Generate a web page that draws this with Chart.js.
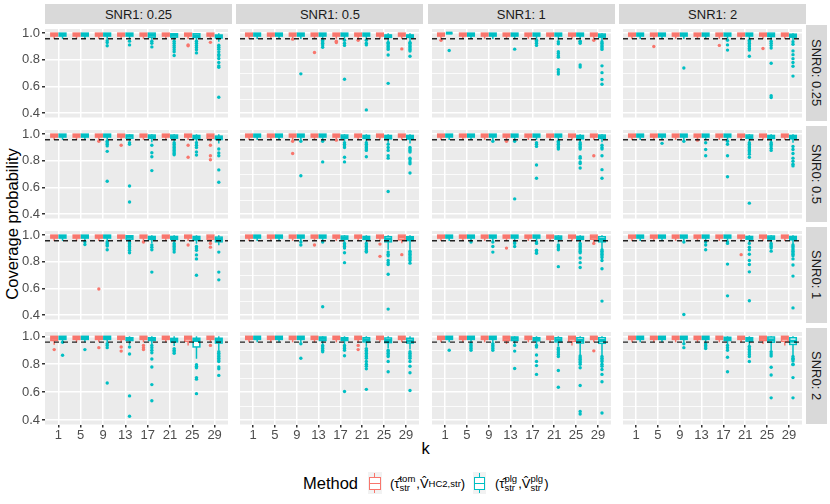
<!DOCTYPE html>
<html>
<head>
<meta charset="utf-8">
<script src="https://cdn.jsdelivr.net/npm/chart.js@4.4.1/dist/chart.umd.min.js"></script>
<style>
  body { margin: 0; width: 830px; height: 504px; background: #fff; position: relative; overflow: hidden;
         font-family: "Liberation Sans", Arial, sans-serif; }
  .cell { position: absolute; }
  .strip { position: absolute; background: #D9D9D9; color: #1A1A1A; font-size: 13px;
           display: flex; align-items: center; justify-content: center; }
  .strip.side span { writing-mode: vertical-rl; }
  .title { position: absolute; font-size: 16.5px; color: #000; white-space: nowrap; }
  .key { position: absolute; width: 13.4px; height: 22px; background: #F2F2F2; }
  .key .wh { position: absolute; left: 6.2px; top: 1px; width: 1px; height: 20px; }
  .key .bx { position: absolute; left: 1px; top: 5px; width: 9.4px; height: 10.6px; background: #fff; border: 1px solid; }
  .key .md { position: absolute; left: 1px; top: 10.5px; width: 11.4px; height: 1.2px; }
  .lab { position: absolute; font-size: 13px; color: #000; white-space: nowrap; display: flex; align-items: center; }
  .ss { display: inline-flex; flex-direction: column; font-size: 9.5px; line-height: 9px; margin: 0 1px 0 0; }
  .lab sub { font-size: 9.5px; vertical-align: -4px; }
</style>
</head>
<body>
<div class="title" style="top:224px; transform: translate(-50%,-50%) rotate(-90deg); left:12px;">Coverage probability</div>
<div class="title" style="left:425.5px; top:448px; transform: translate(-50%,-50%);">k</div>

<div class="title" style="left:303px; top:474px;">Method</div>
<div class="key" style="left:368.3px; top:472.3px;">
  <div class="wh" style="background:#F8766D"></div><div class="bx" style="border-color:#F8766D"></div><div class="md" style="background:#F8766D"></div>
</div>
<div class="lab" style="left:390px; top:472px; height:22px;">(τ̂<span class="ss"><span>tom</span><span>str</span></span>,V̂<sub>HC2,str</sub>)</div>
<div class="key" style="left:472.7px; top:472.3px;">
  <div class="wh" style="background:#00BFC4"></div><div class="bx" style="border-color:#00BFC4"></div><div class="md" style="background:#00BFC4"></div>
</div>
<div class="lab" style="left:495px; top:472px; height:22px;">(τ̂<span class="ss"><span>plg</span><span>str</span></span>,V̂<span class="ss"><span>plg</span><span>str</span></span>)</div>

<script>
// facets and categories
const kLabels = [1, 5, 9, 13, 17, 21, 25, 29];
const snr1Labels = ['SNR1: 0.25', 'SNR1: 0.5', 'SNR1: 1', 'SNR1: 2'];
const snr0Labels = ['SNR0: 0.25', 'SNR0: 0.5', 'SNR0: 1', 'SNR0: 2'];
const yTicks = [0.4, 0.5, 0.6, 0.7, 0.8, 0.9, 1.0];
const refLine = 0.958;

// box stats per panel (row SNR0, then col SNR1), per k: [lower whisker, q1, median, q3]; upper whisker 1
const rb = [0.957, 0.978, 0.99, 1];
const tb = [0.957, 0.978, 0.99, 1];
const redBoxes = [
  [rb, rb, rb, rb, rb, rb, rb, rb],
  [rb, rb, rb, rb, rb, rb, rb, rb],
  [rb, rb, rb, rb, rb, rb, rb, rb],
  [rb, rb, rb, rb, rb, rb, rb, rb],
  [rb, rb, rb, rb, rb, rb, rb, [0.945, 0.97, 0.985, 1]],
  [rb, rb, rb, rb, rb, rb, rb, rb],
  [rb, rb, rb, rb, rb, rb, rb, rb],
  [rb, rb, rb, rb, rb, rb, rb, rb],
  [rb, rb, rb, rb, rb, rb, rb, [0.945, 0.97, 0.985, 1]],
  [rb, rb, rb, rb, rb, rb, rb, [0.94, 0.965, 0.985, 1]],
  [rb, rb, rb, rb, rb, rb, rb, [0.945, 0.97, 0.985, 1]],
  [rb, rb, rb, rb, rb, rb, rb, rb],
  [[0.94, 0.97, 0.985, 1], rb, rb, rb, rb, rb, [0.935, 0.965, 0.985, 1], rb],
  [rb, rb, rb, rb, rb, rb, rb, rb],
  [rb, rb, rb, [0.945, 0.97, 0.985, 1], rb, rb, [0.935, 0.965, 0.985, 1], rb],
  [rb, rb, rb, rb, rb, rb, [0.945, 0.97, 0.985, 1], [0.935, 0.965, 0.985, 1]]
];
const tealBoxes = [
  [tb, tb, tb, tb, [0.95, 0.97, 0.985, 1], [0.95, 0.97, 0.985, 0.995], [0.945, 0.968, 0.98, 0.995], [0.935, 0.963, 0.975, 0.986]],
  [tb, tb, tb, tb, tb, tb, [0.94, 0.968, 0.978, 0.986], [0.94, 0.968, 0.978, 0.986]],
  [[1, 1, 1, 1], tb, tb, tb, tb, [0.95, 0.978, 0.99, 1], tb, [0.94, 0.97, 0.98, 0.993]],
  [tb, tb, tb, tb, tb, [0.95, 0.978, 0.99, 1], [0.95, 0.975, 0.985, 1], [0.945, 0.97, 0.98, 0.992]],
  [tb, tb, tb, [0.95, 0.97, 0.985, 0.993], [0.94, 0.97, 0.98, 0.993], [0.945, 0.97, 0.98, 0.993], [0.94, 0.965, 0.978, 0.99], [0.93, 0.96, 0.972, 0.985]],
  [tb, tb, tb, tb, [0.945, 0.97, 0.98, 0.993], [0.94, 0.968, 0.978, 0.99], [0.935, 0.965, 0.975, 0.99], [0.93, 0.963, 0.975, 0.99]],
  [tb, tb, tb, tb, tb, tb, [0.94, 0.965, 0.978, 0.99], [0.94, 0.968, 0.98, 0.993]],
  [tb, tb, tb, tb, tb, [0.945, 0.97, 0.98, 0.993], [0.94, 0.968, 0.978, 0.99], [0.935, 0.965, 0.975, 0.99]],
  [tb, tb, tb, [0.95, 0.97, 0.985, 0.995], [0.94, 0.968, 0.978, 0.99], [0.945, 0.968, 0.978, 0.99], [0.935, 0.963, 0.975, 0.99], [0.925, 0.95, 0.968, 0.985]],
  [tb, tb, tb, tb, [0.945, 0.97, 0.98, 0.993], [0.94, 0.968, 0.978, 0.99], [0.89, 0.95, 0.97, 0.988], [0.89, 0.96, 0.975, 0.988]],
  [tb, tb, tb, tb, tb, [0.945, 0.97, 0.98, 0.993], [0.94, 0.968, 0.978, 0.99], [0.9, 0.95, 0.968, 0.988]],
  [tb, tb, tb, tb, tb, [0.945, 0.97, 0.98, 0.99], [0.945, 0.97, 0.98, 0.993], [0.93, 0.965, 0.975, 0.99]],
  [tb, tb, tb, [0.94, 0.97, 0.98, 0.99], [0.945, 0.97, 0.98, 0.99], [0.93, 0.96, 0.972, 0.985], [0.84, 0.924, 0.97, 0.986], [0.9, 0.952, 0.97, 0.986]],
  [tb, tb, tb, [0.945, 0.97, 0.985, 0.995], [0.94, 0.97, 0.98, 0.99], [0.925, 0.96, 0.975, 0.99], [0.915, 0.955, 0.97, 0.988], [0.905, 0.952, 0.968, 0.986]],
  [tb, tb, tb, [0.945, 0.97, 0.985, 0.995], [0.94, 0.968, 0.98, 0.99], [0.93, 0.96, 0.975, 0.99], [0.865, 0.952, 0.97, 0.99], [0.865, 0.95, 0.97, 0.99]],
  [tb, tb, tb, tb, [0.94, 0.97, 0.98, 0.993], [0.935, 0.965, 0.978, 0.99], [0.9, 0.958, 0.975, 0.995], [0.86, 0.942, 0.965, 0.99]]
];

// outliers per panel: [k, coverage]
const redOutliers = [
  [[25, 0.912], [25, 0.905], [29, 0.931]],
  [[9, 0.955], [13, 0.855], [17, 0.94], [17, 0.93], [21, 0.947], [29, 0.882]],
  [[1, 0.947], [29, 0.947]],
  [[5, 0.9], [17, 0.908], [25, 0.885]],
  [[9, 0.947], [13, 0.917], [25, 0.917], [25, 0.827], [29, 0.917], [29, 0.838], [29, 0.808]],
  [[9, 0.947], [9, 0.855], [17, 0.955]],
  [[13, 0.947], [29, 0.838]],
  [[13, 0.955]],
  [[9, 0.596], [17, 0.949], [25, 0.926], [29, 0.938], [29, 0.91]],
  [[13, 0.926], [25, 0.933], [25, 0.841], [29, 0.854]],
  [[13, 0.903], [29, 0.938]],
  [[21, 0.854]],
  [[1, 0.905], [9, 0.919], [13, 0.924], [13, 0.894], [17, 0.935], [17, 0.919], [17, 0.905], [29, 0.935]],
  [[21, 0.935], [21, 0.905]],
  [[29, 0.896]],
  []
];
const tealOutliers = [
  [[9, 0.943], [9, 0.929], [9, 0.906], [13, 0.94], [13, 0.912], [17, 0.94], [17, 0.924], [17, 0.897],
   [21, 0.94], [21, 0.924], [21, 0.908], [21, 0.892], [21, 0.876], [21, 0.86], [21, 0.832],
   [25, 0.94], [25, 0.924], [25, 0.908], [25, 0.892], [25, 0.875], [25, 0.852],
   [29, 0.91], [29, 0.895], [29, 0.88], [29, 0.86], [29, 0.84], [29, 0.83], [29, 0.81], [29, 0.78], [29, 0.755], [29, 0.745], [29, 0.52]],
  [[9, 0.695], [13, 0.947], [13, 0.935], [13, 0.924], [13, 0.912], [13, 0.894], [17, 0.947], [17, 0.924], [17, 0.908], [17, 0.654],
   [21, 0.947], [21, 0.924], [21, 0.912], [21, 0.425], [25, 0.93], [25, 0.924], [25, 0.912], [25, 0.9], [25, 0.889], [25, 0.878], [25, 0.836], [25, 0.624],
   [29, 0.93], [29, 0.924], [29, 0.912], [29, 0.9], [29, 0.889], [29, 0.878], [29, 0.866], [29, 0.827]],
  [[1, 0.87], [13, 0.88], [17, 0.947], [17, 0.935], [17, 0.924], [17, 0.908], [21, 0.935], [21, 0.92], [21, 0.861], [21, 0.848], [21, 0.831], [21, 0.82],
   [21, 0.727], [21, 0.709], [21, 0.693], [25, 0.94], [25, 0.935], [25, 0.924], [25, 0.762], [25, 0.746],
   [29, 0.935], [29, 0.924], [29, 0.912], [29, 0.9], [29, 0.889], [29, 0.878], [29, 0.755], [29, 0.704], [29, 0.653], [29, 0.617]],
  [[9, 0.739], [17, 0.947], [17, 0.912], [17, 0.873], [21, 0.947], [21, 0.935], [21, 0.924], [21, 0.912], [21, 0.9], [21, 0.885], [21, 0.873], [21, 0.827],
   [25, 0.94], [25, 0.924], [25, 0.908], [25, 0.889], [25, 0.774], [25, 0.531], [25, 0.518],
   [29, 0.935], [29, 0.917], [29, 0.867], [29, 0.839], [29, 0.809], [29, 0.78], [29, 0.752], [29, 0.678]],
  [[9, 0.947], [9, 0.935], [9, 0.924], [9, 0.912], [9, 0.871], [9, 0.647], [13, 0.935], [13, 0.924], [13, 0.612], [13, 0.492],
   [17, 0.917], [17, 0.861], [17, 0.831], [17, 0.727], [21, 0.935], [21, 0.924], [21, 0.912], [21, 0.9], [21, 0.889], [21, 0.878], [21, 0.866], [21, 0.855], [21, 0.845],
   [25, 0.935], [25, 0.917], [25, 0.9], [25, 0.866], [25, 0.843], [29, 0.889], [29, 0.859], [29, 0.838], [29, 0.732], [29, 0.64]],
  [[9, 0.947], [9, 0.688], [13, 0.947], [13, 0.792], [17, 0.935], [17, 0.924], [17, 0.912], [17, 0.9], [17, 0.827], [17, 0.792],
   [21, 0.935], [21, 0.924], [21, 0.912], [21, 0.9], [21, 0.889], [21, 0.878], [21, 0.831],
   [25, 0.924], [25, 0.9], [25, 0.878], [25, 0.838], [25, 0.82], [25, 0.57],
   [29, 0.9], [29, 0.889], [29, 0.878], [29, 0.866], [29, 0.82], [29, 0.808], [29, 0.792], [29, 0.778], [29, 0.709]],
  [[9, 0.947], [13, 0.947], [13, 0.515], [17, 0.935], [17, 0.924], [17, 0.908], [17, 0.769], [17, 0.67],
   [21, 0.947], [21, 0.935], [21, 0.924], [21, 0.912], [21, 0.9], [21, 0.889],
   [25, 0.935], [25, 0.924], [25, 0.912], [25, 0.9], [25, 0.889], [25, 0.831], [25, 0.82], [25, 0.792], [25, 0.78], [25, 0.746],
   [29, 0.917], [29, 0.9], [29, 0.889], [29, 0.838], [29, 0.734], [29, 0.67]],
  [[5, 0.931], [9, 0.947], [13, 0.935], [13, 0.885], [13, 0.838], [17, 0.947], [17, 0.924], [17, 0.838], [17, 0.681],
   [21, 0.935], [21, 0.924], [21, 0.912], [21, 0.9], [21, 0.889], [21, 0.878], [21, 0.866], [21, 0.85], [21, 0.827], [21, 0.483],
   [25, 0.935], [25, 0.924], [25, 0.912], [25, 0.894], [25, 0.878],
   [29, 0.908], [29, 0.885], [29, 0.855], [29, 0.82], [29, 0.797], [29, 0.774], [29, 0.762]],
  [[5, 0.95], [5, 0.93], [9, 0.949], [9, 0.938], [9, 0.926], [9, 0.919], [9, 0.891],
   [13, 0.949], [13, 0.938], [13, 0.926], [13, 0.915], [13, 0.903], [13, 0.887], [13, 0.868],
   [17, 0.926], [17, 0.91], [17, 0.891], [17, 0.723], [21, 0.938], [21, 0.926], [21, 0.915], [21, 0.903], [21, 0.891], [21, 0.873],
   [25, 0.915], [25, 0.903], [25, 0.887], [25, 0.852], [25, 0.822], [25, 0.7], [29, 0.873], [29, 0.723], [29, 0.665]],
  [[9, 0.949], [9, 0.926], [13, 0.949], [13, 0.464], [17, 0.938], [17, 0.926], [17, 0.915], [17, 0.903], [17, 0.868], [17, 0.794],
   [21, 0.938], [21, 0.926], [21, 0.915], [21, 0.903], [21, 0.891], [21, 0.88], [21, 0.873],
   [25, 0.873], [25, 0.857], [25, 0.845], [25, 0.81], [25, 0.794], [25, 0.78], [25, 0.707], [25, 0.446],
   [29, 0.88], [29, 0.868], [29, 0.857], [29, 0.845], [29, 0.833], [29, 0.822], [29, 0.81], [29, 0.79]],
  [[5, 0.949], [9, 0.949], [9, 0.915], [9, 0.873], [13, 0.949], [13, 0.938], [13, 0.915],
   [17, 0.949], [17, 0.938], [17, 0.887], [17, 0.873], [17, 0.864], [21, 0.926], [21, 0.915], [21, 0.903], [21, 0.891], [21, 0.764],
   [25, 0.938], [25, 0.926], [25, 0.915], [25, 0.903], [25, 0.891], [25, 0.88], [25, 0.868], [25, 0.829], [25, 0.794], [25, 0.757],
   [29, 0.891], [29, 0.88], [29, 0.868], [29, 0.857], [29, 0.845], [29, 0.833], [29, 0.81], [29, 0.748], [29, 0.506]],
  [[9, 0.949], [9, 0.406], [13, 0.949], [13, 0.926], [13, 0.891], [17, 0.949], [17, 0.938], [17, 0.783], [17, 0.545],
   [21, 0.938], [21, 0.91], [21, 0.891], [21, 0.857], [21, 0.81], [21, 0.78], [21, 0.725], [21, 0.508],
   [25, 0.938], [25, 0.926], [25, 0.915], [25, 0.903], [25, 0.88],
   [29, 0.926], [29, 0.915], [29, 0.903], [29, 0.891], [29, 0.88], [29, 0.868], [29, 0.857], [29, 0.845], [29, 0.822], [29, 0.776], [29, 0.693], [29, 0.455]],
  [[1, 0.958], [1, 0.864], [5, 0.905], [9, 0.947], [9, 0.935], [9, 0.919], [9, 0.665], [13, 0.924], [13, 0.873], [13, 0.573], [13, 0.427],
   [17, 0.935], [17, 0.919], [17, 0.9], [17, 0.882], [17, 0.838], [17, 0.78], [17, 0.654], [17, 0.538],
   [21, 0.912], [21, 0.9], [21, 0.889], [21, 0.878], [25, 0.797], [25, 0.785], [25, 0.774], [25, 0.704], [25, 0.693], [25, 0.589],
   [29, 0.889], [29, 0.878], [29, 0.866], [29, 0.855], [29, 0.843], [29, 0.831], [29, 0.82], [29, 0.78], [29, 0.767], [29, 0.72]],
  [[9, 0.947], [9, 0.843], [13, 0.935], [13, 0.924], [13, 0.912], [13, 0.9], [13, 0.889],
   [17, 0.935], [17, 0.924], [17, 0.912], [17, 0.9], [17, 0.861], [17, 0.605],
   [21, 0.912], [21, 0.9], [21, 0.889], [21, 0.878], [21, 0.866], [21, 0.855], [21, 0.843], [21, 0.82], [21, 0.8], [21, 0.785], [21, 0.767], [21, 0.62],
   [25, 0.9], [25, 0.889], [25, 0.878], [25, 0.866], [25, 0.855], [25, 0.82], [25, 0.746],
   [29, 0.889], [29, 0.878], [29, 0.866], [29, 0.855], [29, 0.843], [29, 0.82], [29, 0.785], [29, 0.739], [29, 0.612]],
  [[1, 0.9], [5, 0.947], [5, 0.935], [5, 0.924], [5, 0.912], [5, 0.9], [9, 0.947], [9, 0.935], [9, 0.924], [9, 0.912], [9, 0.9],
   [13, 0.935], [13, 0.894], [13, 0.769], [17, 0.935], [17, 0.924], [17, 0.866], [17, 0.82], [17, 0.79], [17, 0.727],
   [21, 0.917], [21, 0.905], [21, 0.894], [21, 0.882], [21, 0.87], [21, 0.855], [21, 0.755], [21, 0.635],
   [25, 0.859], [25, 0.847], [25, 0.836], [25, 0.824], [25, 0.812], [25, 0.8], [25, 0.775], [25, 0.647], [25, 0.462], [25, 0.443],
   [29, 0.855], [29, 0.843], [29, 0.83], [29, 0.82], [29, 0.8], [29, 0.785], [29, 0.762], [29, 0.727], [29, 0.674], [29, 0.45]],
  [[9, 0.947], [9, 0.919], [13, 0.947], [13, 0.935], [13, 0.924], [13, 0.912],
   [17, 0.935], [17, 0.919], [17, 0.9], [17, 0.85], [17, 0.746],
   [21, 0.928], [21, 0.917], [21, 0.905], [21, 0.894], [21, 0.882], [21, 0.87], [21, 0.855], [21, 0.82],
   [25, 0.889], [25, 0.873], [25, 0.859], [25, 0.778], [25, 0.723], [25, 0.559],
   [29, 0.855], [29, 0.843], [29, 0.836], [29, 0.824], [29, 0.8], [29, 0.797], [29, 0.704], [29, 0.559]]
];

const RED = '#F8766D';
const TEAL = '#00BFC4';
const DODGE = 0.1875;
const BOX_W = 0.3;

// layout of the facet grid
const panelLeft = [45, 236.4, 427.8, 619.2];
const panelTop = [24.5, 125.5, 226.5, 327.5];
const PW = 187, PH = 96.5;
const Y_AXIS_W = 45, X_AXIS_H = 24;

Chart.defaults.font.family = '"Liberation Sans", Arial, sans-serif';
Chart.defaults.font.size = 13;

function isMajor(v) { return Math.round(v * 10) % 2 === 0; }

function drawBoxes(chart, boxes, off, color) {
  const ctx = chart.ctx, xs = chart.scales.x, ys = chart.scales.y;
  const hw = xs.getPixelForValue(BOX_W / 2) - xs.getPixelForValue(0);
  boxes.forEach((b, i) => {
    const [lw, q1, med, q3] = b;
    const cx = xs.getPixelForValue(i + off);
    const yU = ys.getPixelForValue(1), yQ3 = ys.getPixelForValue(q3), yM = ys.getPixelForValue(med);
    const yQ1 = ys.getPixelForValue(q1), yL = ys.getPixelForValue(lw);
    ctx.save();
    ctx.strokeStyle = color;
    ctx.lineWidth = 1.5;
    ctx.beginPath();
    ctx.moveTo(cx, yU); ctx.lineTo(cx, yQ3);
    ctx.moveTo(cx, yQ1); ctx.lineTo(cx, yL);
    ctx.stroke();
    ctx.fillStyle = '#fff';
    ctx.fillRect(cx - hw, yQ3, 2 * hw, yQ1 - yQ3);
    ctx.strokeRect(cx - hw, yQ3, 2 * hw, yQ1 - yQ3);
    ctx.lineWidth = 3;
    ctx.beginPath();
    ctx.moveTo(cx - hw, yM); ctx.lineTo(cx + hw, yM);
    ctx.stroke();
    ctx.restore();
  });
}

function makePanel(r, c) {
  const p = r * 4 + c;
  const left = c === 0 ? 0 : panelLeft[c];
  const width = PW + (c === 0 ? Y_AXIS_W : 0);
  const height = PH + (r === 3 ? X_AXIS_H : 0);
  const div = document.createElement('div');
  div.className = 'cell';
  div.style.cssText = `left:${left}px;top:${panelTop[r]}px;width:${width}px;height:${height}px;`;
  const cv = document.createElement('canvas');
  div.appendChild(cv);
  document.body.appendChild(div);

  const panelPlugin = {
    id: 'panelBg' + p,
    beforeDraw(chart) {
      const a = chart.chartArea;
      chart.ctx.save();
      chart.ctx.fillStyle = '#EBEBEB';
      chart.ctx.fillRect(a.left, a.top, a.width, a.height);
      chart.ctx.restore();
    },
    afterDatasetsDraw(chart) {
      drawBoxes(chart, redBoxes[p], -DODGE, RED);
      drawBoxes(chart, tealBoxes[p], DODGE, TEAL);
      const a = chart.chartArea, ctx = chart.ctx;
      const y = chart.scales.y.getPixelForValue(refLine);
      ctx.save();
      ctx.strokeStyle = 'rgba(0,0,0,0.85)';
      ctx.lineWidth = 1.3;
      ctx.setLineDash([5, 4]);
      ctx.beginPath();
      ctx.moveTo(a.left, y); ctx.lineTo(a.right, y);
      ctx.stroke();
      ctx.restore();
    }
  };

  new Chart(cv, {
    type: 'scatter',
    data: {
      datasets: [
        {
          data: redOutliers[p].map(([k, v]) => ({ x: kLabels.indexOf(k) - DODGE, y: v })),
          backgroundColor: RED, pointRadius: 1.7, borderWidth: 0
        },
        {
          data: tealOutliers[p].map(([k, v]) => ({ x: kLabels.indexOf(k) + DODGE, y: v })),
          backgroundColor: TEAL, pointRadius: 1.7, borderWidth: 0
        }
      ]
    },
    options: {
      responsive: true,
      maintainAspectRatio: false,
      animation: false,
      events: [],
      layout: { padding: 0 },
      plugins: { legend: { display: false }, tooltip: { enabled: false } },
      scales: {
        x: {
          type: 'linear', min: -0.6, max: kLabels.length - 0.4,
          afterBuildTicks: (s) => { s.ticks = kLabels.map((k, i) => ({ value: i })); },
          afterFit: (s) => { s.height = r === 3 ? X_AXIS_H : 0; s.paddingLeft = 0; s.paddingRight = 0; },
          ticks: {
            display: r === 3, color: '#4D4D4D', padding: 0, maxRotation: 0, autoSkip: false,
            callback: (v) => kLabels[v]
          },
          grid: { color: '#FFFFFF', lineWidth: 1.5, drawTicks: r === 3, tickLength: 3, tickColor: '#333333' },
          border: { display: false }
        },
        y: {
          type: 'linear', min: 0.368, max: 1.031,
          afterBuildTicks: (s) => { s.ticks = yTicks.map(v => ({ value: v })); },
          afterFit: (s) => { s.width = c === 0 ? Y_AXIS_W : 0; s.paddingTop = 0; s.paddingBottom = 0; },
          ticks: {
            display: c === 0, color: '#4D4D4D', padding: 2,
            callback: (v) => isMajor(v) ? v.toFixed(1) : ''
          },
          grid: {
            color: '#FFFFFF',
            lineWidth: (ctx) => isMajor(ctx.tick.value) ? 1.5 : 0.8,
            drawTicks: c === 0, tickLength: 3,
            tickColor: (ctx) => isMajor(ctx.tick.value) ? '#333333' : 'rgba(0,0,0,0)'
          },
          border: { display: false }
        }
      }
    },
    plugins: [panelPlugin]
  });
}

// strips
snr1Labels.forEach((t, c) => {
  const s = document.createElement('div');
  s.className = 'strip';
  s.style.cssText = `left:${panelLeft[c]}px;top:4.3px;width:${PW}px;height:20.2px;`;
  s.textContent = t;
  document.body.appendChild(s);
});
snr0Labels.forEach((t, r) => {
  const s = document.createElement('div');
  s.className = 'strip side';
  s.style.cssText = `left:${panelLeft[3] + PW}px;top:${panelTop[r]}px;width:20.8px;height:${PH}px;`;
  const sp = document.createElement('span');
  sp.textContent = t;
  s.appendChild(sp);
  document.body.appendChild(s);
});

for (let r = 0; r < 4; r++) {
  for (let c = 0; c < 4; c++) makePanel(r, c);
}
</script>
</body>
</html>
